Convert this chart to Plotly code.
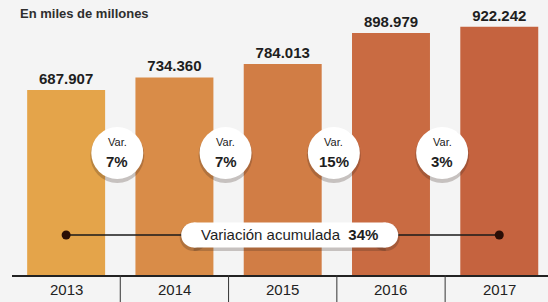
import plotly.graph_objects as go

# ---- data ----
years = ["2013", "2014", "2015", "2016", "2017"]
values = [687907, 734360, 784013, 898979, 922242]
variations = ["7%", "7%", "15%", "3%"]
accumulated = "34%"
subtitle = "En miles de millones"

bar_colors = ["#E4A44A", "#D98C48", "#D17D45", "#C96B42", "#C5633F"]

YMAX = 1022000
CIRCLE_Y = 0.4436 * YMAX
LINE_Y = 0.1455 * YMAX
BG = "#f4f4f4"
FONT = "Liberation Sans, Arial, sans-serif"

x = list(range(len(years)))

fig = go.Figure()
fig.add_trace(go.Bar(
    x=x, y=values, width=0.72,
    marker=dict(color=bar_colors, line=dict(width=0)),
    texttemplate="<b>%{y:,}</b>", textposition="outside",
    textfont=dict(family=FONT, size=15, color="#1e1e1e"),
    cliponaxis=False, hoverinfo="skip",
))

# accumulated-variation line with end dots
fig.add_trace(go.Scatter(
    x=[x[0], x[-1]], y=[LINE_Y] * 2,
    mode="lines+markers",
    line=dict(color="#1a1a1a", width=1.6),
    marker=dict(color="#2a0e06", size=9),
    hoverinfo="skip",
))

shapes = []
annotations = []

# dividers under axis
for i in range(len(years) - 1):
    shapes.append(dict(type="line", xref="x", yref="paper", x0=i + 0.5, x1=i + 0.5,
                       y0=0, y1=-0.1, line=dict(color="#333", width=1)))

# year labels
for i, yr in enumerate(years):
    annotations.append(dict(x=i, y=0, xref="x", yref="paper", yanchor="middle", yshift=-14,
                            text=yr, showarrow=False,
                            font=dict(family=FONT, size=15, color="#222")))

# variation circles
for i, v in enumerate(variations):
    cx = i + 0.5
    shapes.append(dict(type="circle", xref="x", yref="y", xsizemode="pixel", ysizemode="pixel",
                       xanchor=cx, yanchor=CIRCLE_Y, x0=-30, x1=24, y0=-30, y1=25,
                       fillcolor="rgba(60,40,30,0.25)", line=dict(width=0), layer="above"))
    shapes.append(dict(type="circle", xref="x", yref="y", xsizemode="pixel", ysizemode="pixel",
                       xanchor=cx, yanchor=CIRCLE_Y, x0=-29, x1=23, y0=-26, y1=26,
                       fillcolor="white", line=dict(width=0), layer="above"))
    annotations.append(dict(x=cx, y=CIRCLE_Y, xref="x", yref="y", xshift=-3, yshift=11,
                            text="Var.", showarrow=False,
                            font=dict(family=FONT, size=11, color="#222")))
    annotations.append(dict(x=cx, y=CIRCLE_Y, xref="x", yref="y", xshift=-3, yshift=-8,
                            text="<b>" + v + "</b>", showarrow=False,
                            font=dict(family=FONT, size=15, color="#1e1e1e")))

# pill for accumulated variation
PX = 2
pill_dx = 7
for (dy, col, grow) in [(-2, "rgba(60,40,30,0.25)", 1.5), (0, "white", 0)]:
    shapes.append(dict(type="rect", xref="x", yref="y", xsizemode="pixel", ysizemode="pixel",
                       xanchor=PX, yanchor=LINE_Y, x0=pill_dx - 96, x1=pill_dx + 96,
                       y0=dy - 12.5 - grow, y1=dy + 12.5 + grow,
                       fillcolor=col, line=dict(width=0), layer="above"))
    for ex in (pill_dx - 96, pill_dx + 96):
        shapes.append(dict(type="circle", xref="x", yref="y", xsizemode="pixel", ysizemode="pixel",
                           xanchor=PX, yanchor=LINE_Y, x0=ex - 12.5 - grow, x1=ex + 12.5 + grow,
                           y0=dy - 12.5 - grow, y1=dy + 12.5 + grow,
                           fillcolor=col, line=dict(width=0), layer="above"))
annotations.append(dict(x=PX, y=LINE_Y, xref="x", yref="y", xshift=pill_dx, yanchor="middle",
                        text="Variación acumulada  <b>" + accumulated + "</b>", showarrow=False,
                        font=dict(family=FONT, size=15, color="#1e1e1e")))

# subtitle
annotations.append(dict(x=0, y=1, xref="paper", yref="paper", xanchor="left", yanchor="middle",
                        xshift=6, yshift=-13, text="<b>" + subtitle + "</b>", showarrow=False,
                        font=dict(family=FONT, size=13, color="#2e2e2e")))

fig.update_layout(
    width=548, height=302,
    margin=dict(l=12, r=0, t=0, b=27),
    paper_bgcolor=BG, plot_bgcolor=BG,
    showlegend=False, bargap=0.28,
    separators=",.",
    shapes=shapes, annotations=annotations,
    xaxis=dict(range=[-0.5, 4.45], tickvals=x, showticklabels=False, showgrid=False,
               zeroline=False, automargin=False,
               showline=True, linecolor="#222", linewidth=1.5, ticks=""),
    yaxis=dict(range=[0, YMAX], visible=False, showgrid=False, zeroline=False, automargin=False),
)

fig.write_html("out.html", config={"displayModeBar": False},
               post_script="document.body.style.margin='0';document.body.style.overflow='hidden';")
